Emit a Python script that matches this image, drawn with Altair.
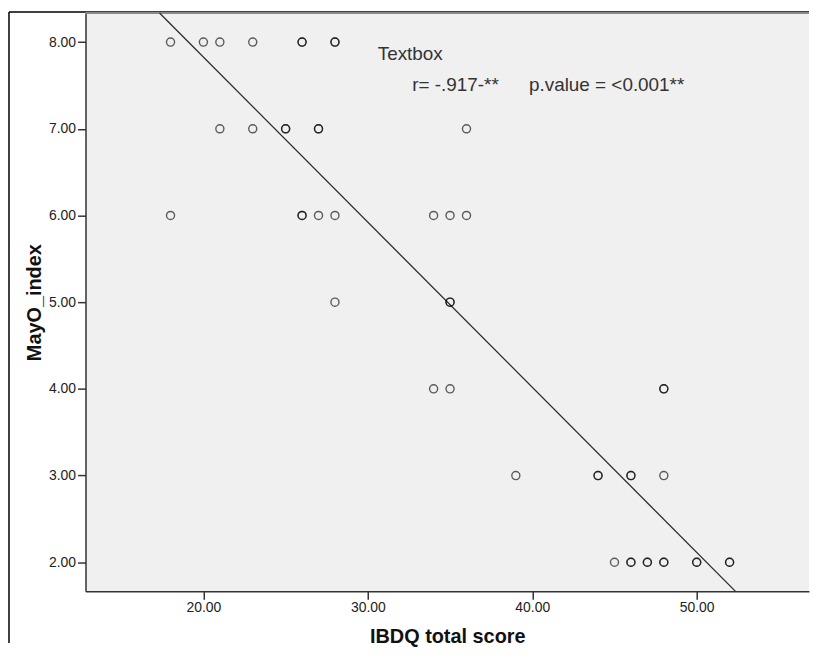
import altair as alt
import pandas as pd

# Data
ibdq = [18, 20, 21, 23, 26, 26, 28, 28,
        21, 23, 25, 25, 27, 27, 36,
        18, 26, 26, 27, 28, 34, 35, 36,
        28, 35, 35,
        34, 35, 48, 48,
        39, 44, 44, 46, 46, 48,
        45, 46, 46, 47, 47, 48, 48, 50, 50, 52, 52]
mayo = [8] * 8 + [7] * 7 + [6] * 8 + [5] * 3 + [4] * 4 + [3] * 6 + [2] * 11

fit_x = [17.33, 52.36]
fit_y = [8.336, 1.664]

ann_text = ["Textbox", "r= -.917-**", "p.value = <0.001**"]
ann_x = [30.6, 32.7, 39.8]
ann_y = [7.79, 7.44, 7.44]

x_ticks = [20, 30, 40, 50]
y_ticks = [2, 3, 4, 5, 6, 7, 8]
x_domain = [12.83, 56.83]
y_domain = [1.664, 8.336]

W, H = 728, 582
FONT = "Liberation Sans"

df = pd.DataFrame({"ibdq": ibdq, "mayo": mayo})
fit_df = pd.DataFrame({"fx": fit_x, "fy": fit_y})
ann_df = pd.DataFrame({"t": ann_text, "ax": ann_x, "ay": ann_y})
dummy = pd.DataFrame({"a": [0]})

xs = alt.Scale(domain=x_domain, nice=False, zero=False)
ys = alt.Scale(domain=y_domain, nice=False, zero=False)

points = alt.Chart(df).mark_point(
    shape="circle", filled=False, size=66, strokeWidth=1.4, color="#000", opacity=0.62
).encode(
    x=alt.X("ibdq:Q", scale=xs, axis=alt.Axis(
        title="IBDQ total score", values=x_ticks, format=".2f",
        titleY=51, titleBaseline="alphabetic", titleX=W / 2, titleAlign="center",
        labelPadding=1)),
    y=alt.Y("mayo:Q", scale=ys, axis=alt.Axis(
        title="MayO_index", values=y_ticks, format=".2f",
        titleX=-45, titleY=H / 2, titleAngle=270, titleBaseline="alphabetic",
        titleAlign="center", labelPadding=2)),
)

fit = alt.Chart(fit_df).mark_line(color="#2a2a2a", strokeWidth=1.3).encode(
    x=alt.X("fx:Q", scale=xs), y=alt.Y("fy:Q", scale=ys)
)

ann = alt.Chart(ann_df).mark_text(
    align="left", baseline="alphabetic", fontSize=19, font=FONT, color="#333"
).encode(x=alt.X("ax:Q", scale=xs), y=alt.Y("ay:Q", scale=ys), text="t:N")

top_border = alt.Chart(dummy).mark_rule(color="#8a8a8a", strokeWidth=2).encode(
    x=alt.value(0), x2=alt.value(W), y=alt.value(0)
)
frame_top = alt.Chart(dummy).mark_rule(color="#000", strokeWidth=1.5, clip=False).encode(
    x=alt.value(-77), x2=alt.value(W), y=alt.value(-1)
)
frame_left = alt.Chart(dummy).mark_rule(color="#000", strokeWidth=1.5, clip=False).encode(
    x=alt.value(-77), y=alt.value(-1), y2=alt.value(H + 52)
)

chart = alt.layer(frame_top, frame_left, top_border, fit, points, ann).properties(
    width=W, height=H, padding={"left": 0, "top": 0, "right": 0, "bottom": 0},
    background="white"
).configure_view(
    stroke=None, fill="#f0f0f0"
).configure_axis(
    domainColor="#333", domainWidth=1.5, tickColor="#333", tickSize=8, tickWidth=1.5,
    labelFont=FONT, labelFontSize=14, labelColor="#222",
    titleFont=FONT, titleFontSize=20, titleFontWeight="bold", titleColor="#111",
    grid=False
)

chart.save("out.html", embed_options={"renderer": "svg", "actions": False})
